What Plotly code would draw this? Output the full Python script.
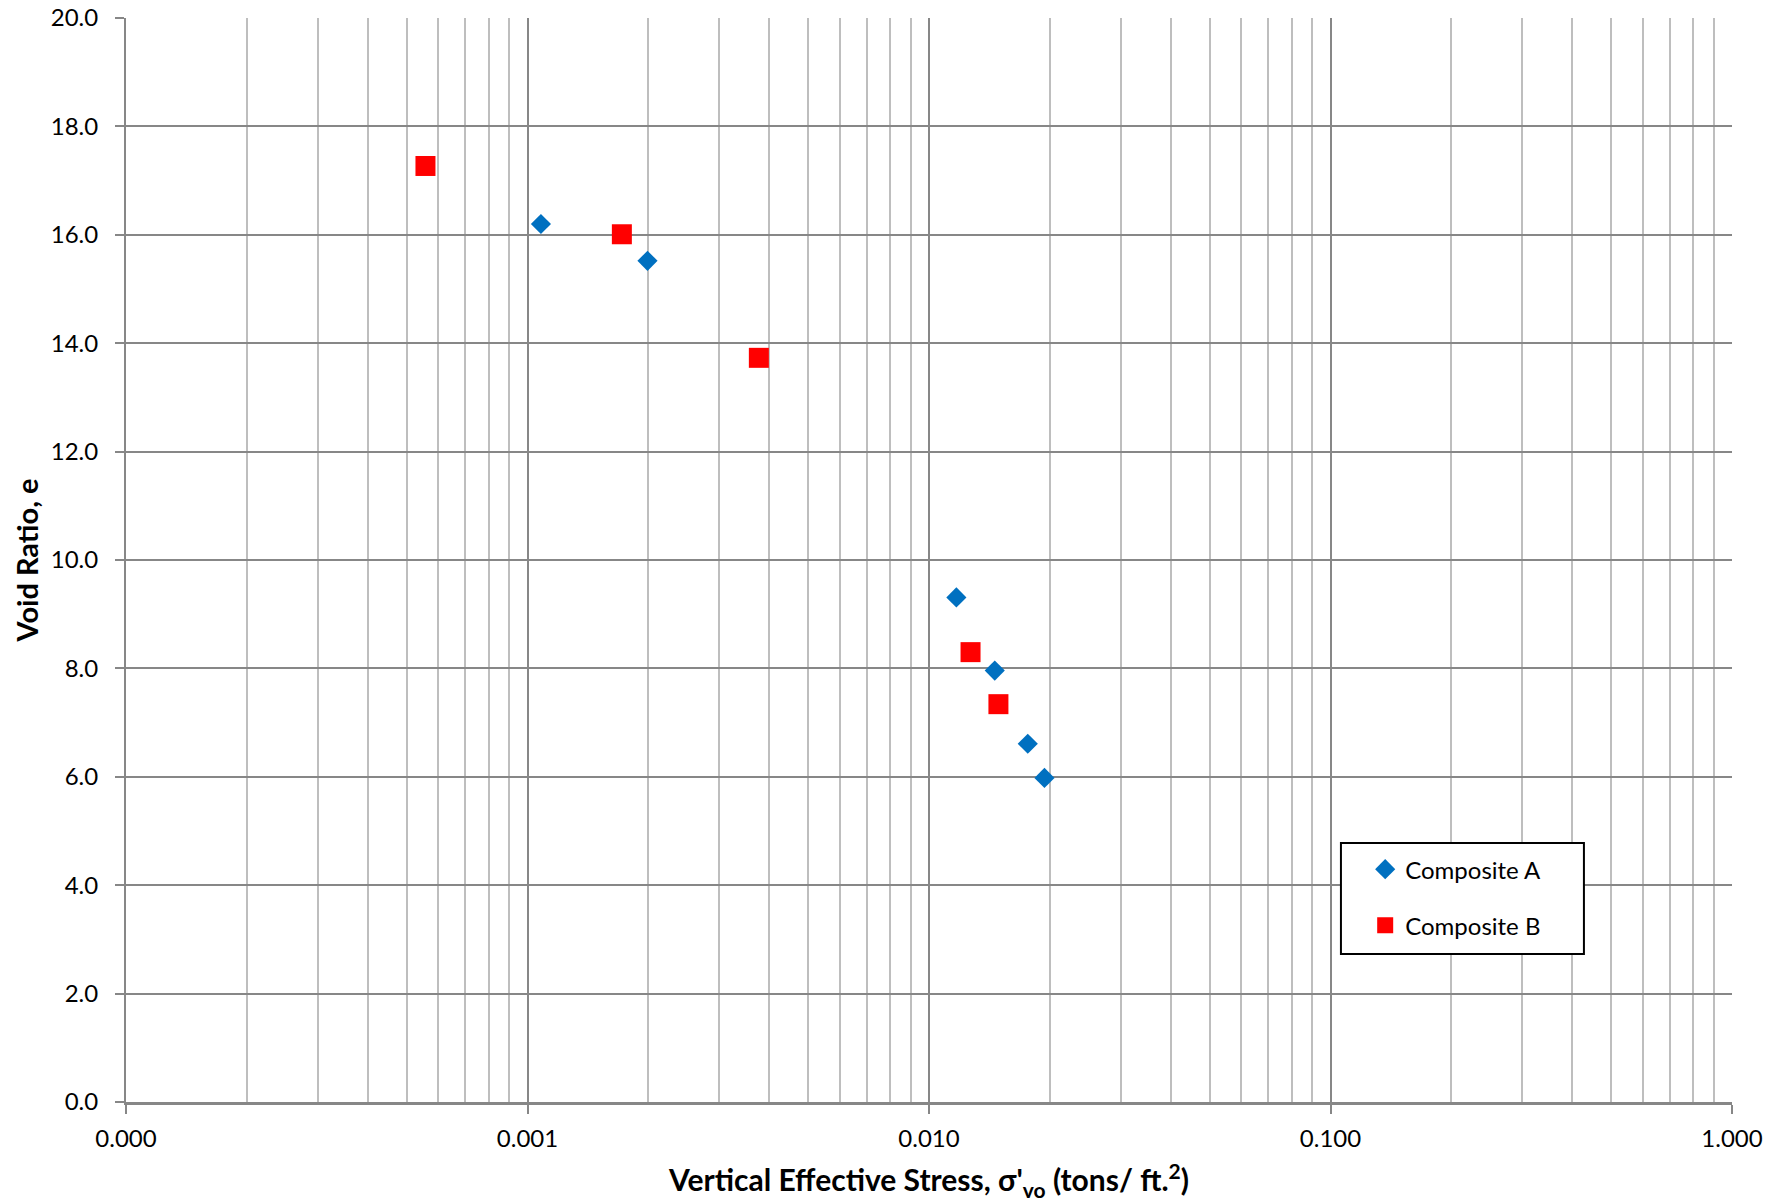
import plotly.graph_objects as go

# Data
a_stress = [0.00108, 0.00199, 0.0117, 0.01458, 0.01762, 0.01939]
a_void = [16.2, 15.52, 9.31, 7.96, 6.61, 5.98]
b_stress = [0.000557, 0.001718, 0.003769, 0.01269, 0.01489]
b_void = [17.27, 16.01, 13.73, 8.30, 7.34]

x_tickvals = [0.0001, 0.001, 0.01, 0.1, 1.0]
x_ticktext = ["0.000", "0.001", "0.010", "0.100", "1.000"]
y_tickvals = [0, 2, 4, 6, 8, 10, 12, 14, 16, 18, 20]
y_ticktext = ["0.0", "2.0", "4.0", "6.0", "8.0", "10.0", "12.0", "14.0", "16.0", "18.0", "20.0"]

FONT = "Lato"
MAJ = "#878787"
MIN = "#BEBEBE"

fig = go.Figure()
fig.add_trace(go.Scatter(
    x=a_stress, y=a_void, mode="markers", name="Composite A", legendgroup="a",
    marker=dict(symbol="diamond", size=15.5, color="#0070C0", line=dict(width=0)),
))
fig.add_trace(go.Scatter(
    x=b_stress, y=b_void, mode="markers", name="Composite B", legendgroup="b",
    marker=dict(symbol="square", size=20, color="#FF0000", line=dict(width=0)),
))

# legend frame
fig.add_shape(type="rect", xref="paper", yref="paper",
              x0=0.7565, x1=0.9078, y0=0.1365, y1=0.2389,
              line=dict(color="black", width=2), fillcolor="white", layer="above")

fig.update_layout(
    width=1788, height=1203,
    margin=dict(l=126, r=56, t=18, b=101),
    paper_bgcolor="white", plot_bgcolor="white",
    font=dict(family=FONT, size=24, color="black"),
    showlegend=True,
    legend=dict(
        x=0.7716, y=0.2352, xanchor="left", yanchor="top",
        borderwidth=0, bgcolor="rgba(0,0,0,0)",
        font=dict(family=FONT, size=24, color="black"),
        traceorder="grouped", tracegroupgap=22,
    ),
    xaxis=dict(
        type="log", range=[-4, 0], automargin=False,
        tickvals=x_tickvals, ticktext=x_ticktext,
        showgrid=True, gridcolor=MAJ, gridwidth=2,
        minor=dict(showgrid=True, gridcolor=MIN, gridwidth=2, dtick="D1", ticks=""),
        showline=True, linecolor=MAJ, linewidth=3,
        ticks="outside", ticklen=9, tickwidth=2, tickcolor=MAJ,
        ticklabelstandoff=4, ticklabeloverflow="allow",
        tickfont=dict(family=FONT, size=24, color="black"),
        title=dict(text="<b>Vertical Effective Stress, σ'<sub>vo</sub> (tons/ ft.<sup>2</sup>)</b>",
                   font=dict(family=FONT, size=30, color="black"), standoff=20),
        zeroline=False,
    ),
    yaxis=dict(
        range=[0, 20], automargin=False,
        tickvals=y_tickvals, ticktext=y_ticktext,
        showgrid=True, gridcolor=MAJ, gridwidth=2,
        showline=True, linecolor=MAJ, linewidth=2,
        ticks="outside", ticklen=9, tickwidth=2, tickcolor=MAJ,
        ticklabelstandoff=12, ticklabeloverflow="allow",
        tickfont=dict(family=FONT, size=24, color="black"),
        title=dict(text="<b>Void Ratio, e</b>",
                   font=dict(family=FONT, size=29, color="black"), standoff=4),
        zeroline=False,
    ),
)

fig.write_html("out.html", config={"displayModeBar": False},
               post_script="document.body.style.margin='0';")
